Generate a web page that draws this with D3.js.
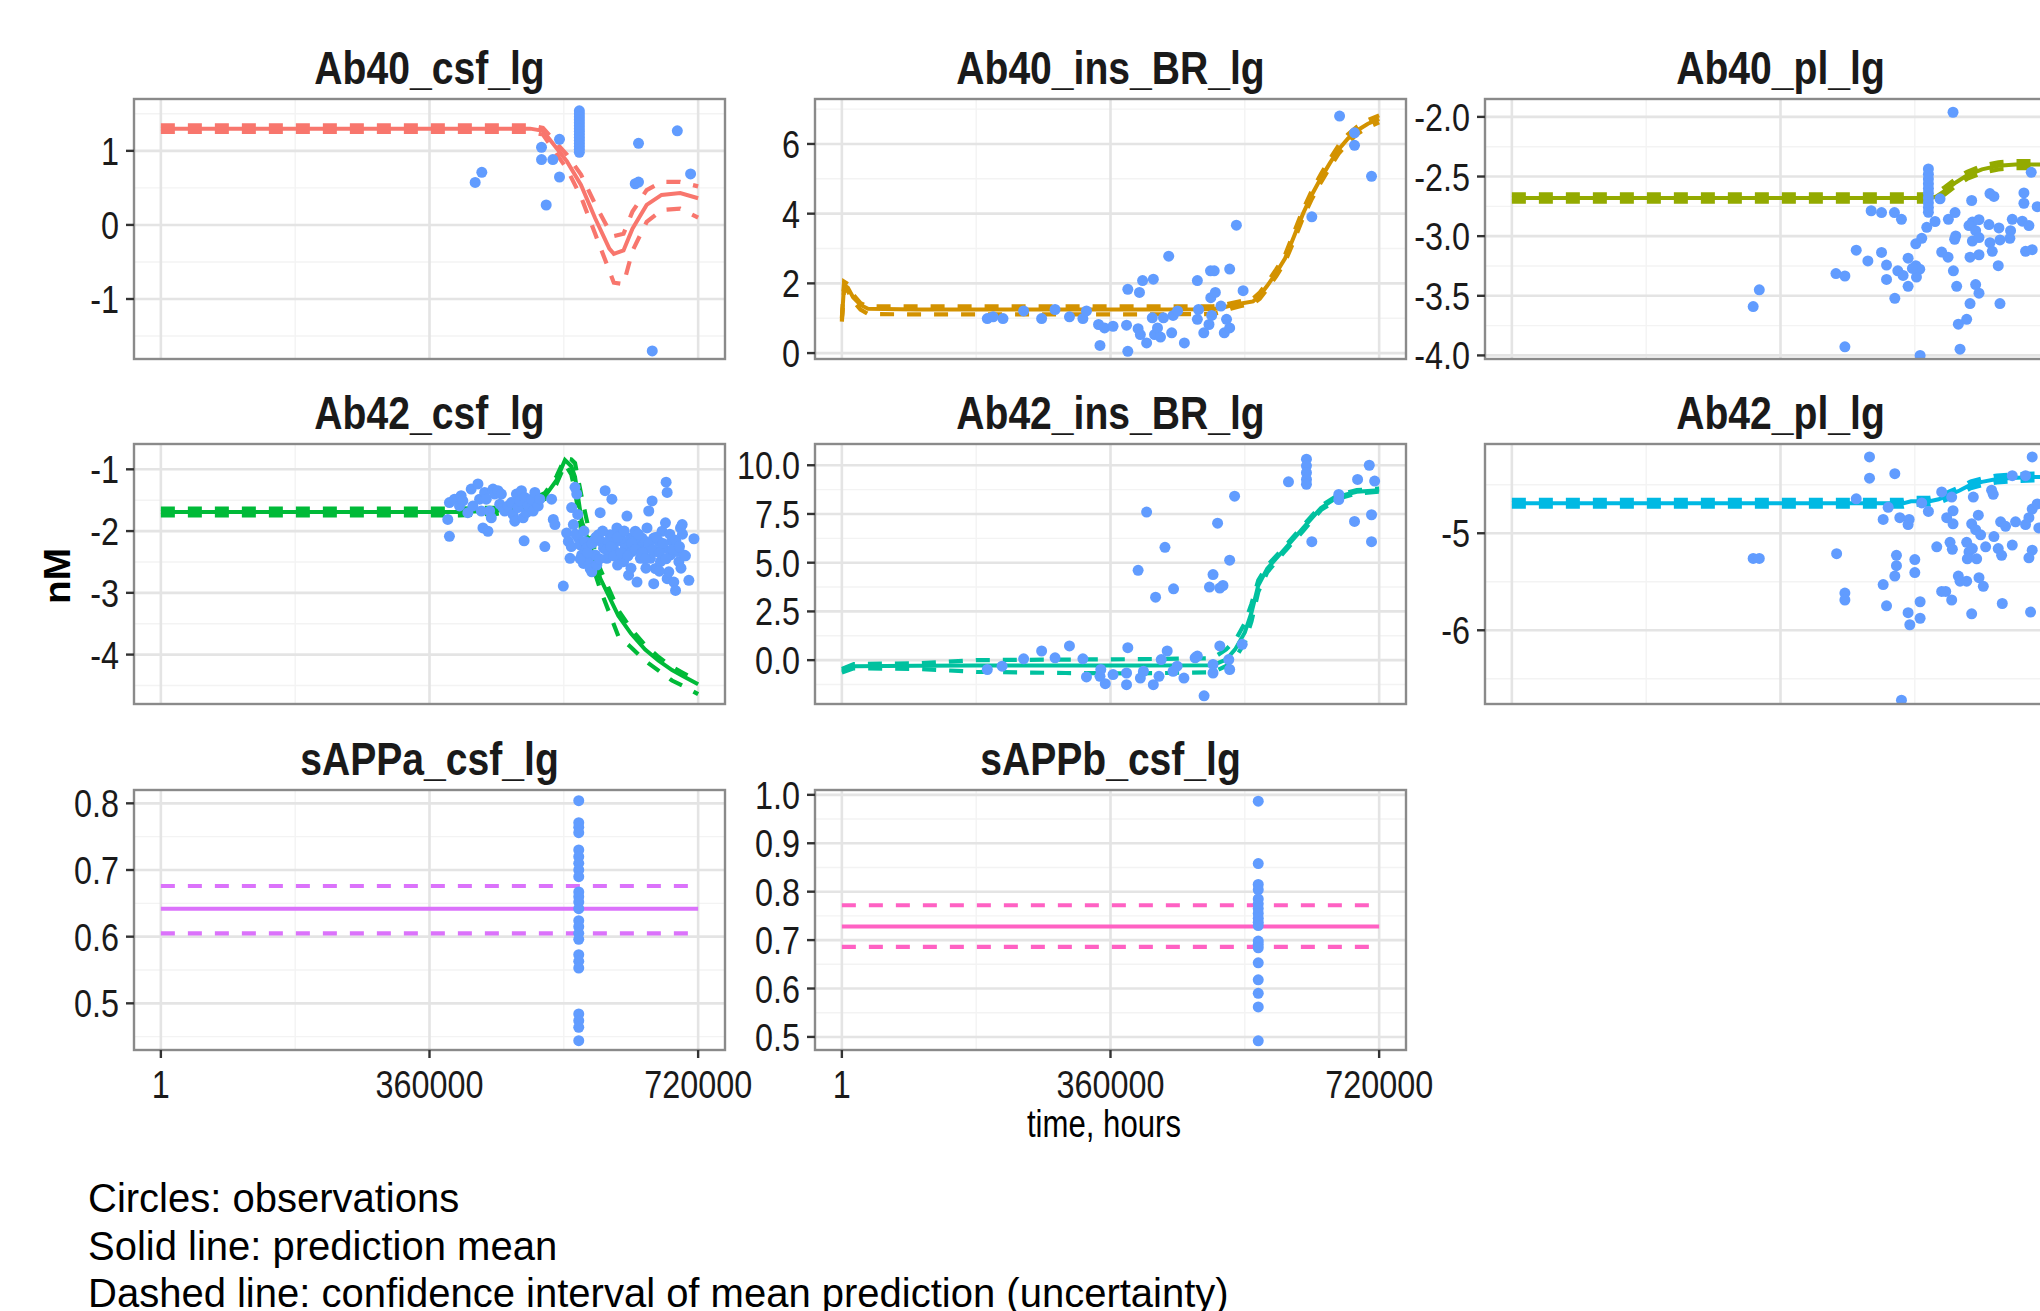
<!DOCTYPE html>
<html><head><meta charset="utf-8">
<script src="https://cdn.jsdelivr.net/npm/d3@7"></script>
<style>body{margin:0;background:#fff;overflow:hidden}</style>
</head><body>
<svg id="chart" width="2040" height="1311"></svg>
<script>
// ---------------- DATA ----------------
const panelNames = ["Ab40_csf_lg","Ab40_ins_BR_lg","Ab40_pl_lg","Ab42_csf_lg","Ab42_ins_BR_lg","Ab42_pl_lg","sAPPa_csf_lg","sAPPb_csf_lg"];
const panelColors = ["#F8766D","#D39200","#93AA00","#00BA38","#00C19F","#00B9E3","#DB72FB","#FF61C3"];
const obsColor = "#619CFF";
const xLimits = [1, 720000];
const xTicks = [1, 360000, 720000];
const xTickLabels = ["1","360000","720000"];
const xMinor = [180000, 540000];
const yAxisTitle = "nM";
const xAxisTitle = "time, hours";
const footerLines = ["Circles: observations","Solid line: prediction mean","Dashed line: confidence interval of mean prediction (uncertainty)"];

// y-axis limits (panel extents), ticks, labels, minor breaks
const yLim_Ab40_csf = [-1.81, 1.70], yTicks_Ab40_csf = [-1,0,1], yLab_Ab40_csf = ["-1","0","1"], yMinor_Ab40_csf = [-1.5,-0.5,0.5,1.5];
const yLim_Ab40_ins = [-0.17, 7.29], yTicks_Ab40_ins = [0,2,4,6], yLab_Ab40_ins = ["0","2","4","6"], yMinor_Ab40_ins = [1,3,5,7];
const yLim_Ab40_pl = [-4.03, -1.85], yTicks_Ab40_pl = [-4,-3.5,-3,-2.5,-2], yLab_Ab40_pl = ["-4.0","-3.5","-3.0","-2.5","-2.0"], yMinor_Ab40_pl = [-3.75,-3.25,-2.75,-2.25];
const yLim_Ab42_csf = [-4.80, -0.59], yTicks_Ab42_csf = [-4,-3,-2,-1], yLab_Ab42_csf = ["-4","-3","-2","-1"], yMinor_Ab42_csf = [-4.5,-3.5,-2.5,-1.5];
const yLim_Ab42_ins = [-2.25, 11.09], yTicks_Ab42_ins = [0,2.5,5,7.5,10], yLab_Ab42_ins = ["0.0","2.5","5.0","7.5","10.0"], yMinor_Ab42_ins = [-1.25,1.25,3.75,6.25,8.75];
const yLim_Ab42_pl = [-6.76, -4.08], yTicks_Ab42_pl = [-6,-5], yLab_Ab42_pl = ["-6","-5"], yMinor_Ab42_pl = [-6.5,-5.5,-4.5];
const yLim_sAPPa = [0.430, 0.820], yTicks_sAPPa = [0.5,0.6,0.7,0.8], yLab_sAPPa = ["0.5","0.6","0.7","0.8"], yMinor_sAPPa = [0.45,0.55,0.65,0.75];
const yLim_sAPPb = [0.473, 1.01], yTicks_sAPPb = [0.5,0.6,0.7,0.8,0.9,1.0], yLab_sAPPb = ["0.5","0.6","0.7","0.8","0.9","1.0"], yMinor_sAPPb = [0.55,0.65,0.75,0.85,0.95];

// predictions: time (hours), mean, lower CI, upper CI
const predX_Ab40_csf = [1,100e3,200e3,300e3,400e3,495e3,512e3,544e3,563e3,582e3,601e3,607e3,620e3,632e3,651e3,671e3,696e3,720e3];
const mean_Ab40_csf  = [1.30,1.30,1.30,1.30,1.30,1.30,1.27,0.86,0.54,0.09,-0.32,-0.39,-0.345,-0.05,0.27,0.405,0.43,0.36];
const hi_Ab40_csf    = [1.345,1.345,1.345,1.345,1.345,1.345,1.31,0.95,0.68,0.28,-0.08,-0.15,-0.12,0.18,0.47,0.58,0.58,0.52];
const lo_Ab40_csf    = [1.255,1.255,1.255,1.255,1.255,1.255,1.22,0.76,0.38,-0.12,-0.62,-0.78,-0.80,-0.35,0.04,0.20,0.22,0.10];

const predX_Ab40_ins = [1,3e3,8e3,15e3,25e3,35e3,100e3,200e3,300e3,400e3,497e3,510e3,521e3,535e3,551e3,560e3,570e3,582e3,594e3,606e3,618e3,630e3,642e3,654e3,666e3,678e3,690e3,705e3,720e3];
const mean_Ab40_ins  = [0.95,1.95,1.88,1.60,1.38,1.27,1.25,1.25,1.25,1.25,1.26,1.30,1.36,1.42,1.48,1.65,1.93,2.30,2.72,3.35,4.00,4.55,5.02,5.45,5.85,6.15,6.38,6.58,6.72];
const hi_Ab40_ins    = [1.00,2.05,1.98,1.68,1.43,1.34,1.34,1.34,1.34,1.34,1.34,1.37,1.43,1.49,1.56,1.74,2.02,2.40,2.82,3.47,4.12,4.67,5.14,5.57,5.97,6.27,6.49,6.69,6.82];
const lo_Ab40_ins    = [0.90,1.85,1.78,1.50,1.25,1.12,1.11,1.11,1.11,1.11,1.12,1.19,1.27,1.35,1.41,1.56,1.84,2.20,2.62,3.23,3.88,4.43,4.90,5.33,5.73,6.03,6.28,6.48,6.62];

const predX_Ab40_pl = [1,100e3,200e3,300e3,400e3,500e3,560e3,568e3,580e3,595e3,610e3,630e3,652e3,675e3,700e3,720e3];
const mean_Ab40_pl  = [-2.68,-2.68,-2.68,-2.68,-2.68,-2.68,-2.68,-2.67,-2.62,-2.55,-2.49,-2.44,-2.41,-2.40,-2.40,-2.40];
const hi_Ab40_pl    = [-2.65,-2.65,-2.65,-2.65,-2.65,-2.65,-2.65,-2.64,-2.59,-2.52,-2.46,-2.41,-2.38,-2.37,-2.37,-2.37];
const lo_Ab40_pl    = [-2.71,-2.71,-2.71,-2.71,-2.71,-2.71,-2.71,-2.70,-2.65,-2.58,-2.52,-2.47,-2.44,-2.43,-2.43,-2.43];

const predX_Ab42_csf = [1,100e3,200e3,300e3,400e3,450e3,490e3,515e3,530e3,541.5e3,550e3,555e3,564e3,573e3,589e3,613e3,630e3,649e3,667e3,685e3,700e3,720e3];
const mean_Ab42_csf  = [-1.69,-1.69,-1.69,-1.69,-1.69,-1.67,-1.58,-1.43,-1.18,-0.85,-0.95,-1.12,-1.84,-2.16,-2.77,-3.37,-3.66,-3.92,-4.10,-4.25,-4.35,-4.48];
const hi_Ab42_csf    = [-1.635,-1.635,-1.635,-1.635,-1.635,-1.62,-1.53,-1.38,-1.12,-0.82,-0.84,-0.90,-1.45,-1.95,-2.62,-3.28,-3.58,-3.85,-4.04,-4.20,-4.30,-4.43];
const lo_Ab42_csf    = [-1.745,-1.745,-1.745,-1.745,-1.745,-1.72,-1.63,-1.48,-1.24,-0.92,-1.08,-1.35,-2.05,-2.36,-2.95,-3.70,-3.88,-4.10,-4.26,-4.42,-4.51,-4.64];

const predX_Ab42_ins = [1,16e3,100e3,180e3,300e3,400e3,497e3,515e3,527e3,540e3,549e3,558e3,570e3,594e3,618e3,642e3,666e3,690e3,720e3];
const mean_Ab42_ins  = [-0.54,-0.31,-0.29,-0.28,-0.28,-0.28,-0.26,0.03,0.55,1.42,2.45,3.83,4.70,5.73,6.77,7.81,8.41,8.64,8.72];
const hi_Ab42_ins    = [-0.45,-0.20,-0.16,0.00,0.03,0.05,0.10,0.55,1.00,1.90,2.90,4.10,4.85,5.85,6.90,7.92,8.50,8.72,8.80];
const lo_Ab42_ins    = [-0.63,-0.42,-0.45,-0.60,-0.66,-0.68,-0.62,-0.30,0.10,0.90,2.00,3.50,4.50,5.60,6.62,7.70,8.30,8.55,8.64];

const predX_Ab42_pl = [1,100e3,200e3,300e3,400e3,500e3,525e3,535e3,560e3,572e3,585e3,600e3,615e3,630e3,650e3,670e3,700e3,720e3];
const mean_Ab42_pl  = [-4.69,-4.69,-4.69,-4.69,-4.69,-4.69,-4.69,-4.67,-4.67,-4.65,-4.61,-4.56,-4.50,-4.47,-4.44,-4.43,-4.42,-4.42];
const hi_Ab42_pl    = [-4.655,-4.655,-4.655,-4.655,-4.655,-4.655,-4.655,-4.635,-4.635,-4.615,-4.575,-4.525,-4.465,-4.435,-4.405,-4.395,-4.385,-4.385];
const lo_Ab42_pl    = [-4.725,-4.725,-4.725,-4.725,-4.725,-4.725,-4.725,-4.705,-4.705,-4.685,-4.645,-4.595,-4.535,-4.505,-4.475,-4.465,-4.455,-4.455];

const predX_sAPPa = [1, 720e3], mean_sAPPa = [0.642,0.642], hi_sAPPa = [0.676,0.676], lo_sAPPa = [0.605,0.605];
const predX_sAPPb = [1, 720e3], mean_sAPPb = [0.728,0.728], hi_sAPPb = [0.772,0.772], lo_sAPPb = [0.686,0.686];

// observations [time (hours), value]
const obs_Ab40_csf = [[421.2e3,0.574],[430.1e3,0.710],[510.1e3,1.047],[510.1e3,0.883],[525.3e3,0.883],[534.2e3,1.156],[534.2e3,0.647],[516.4e3,0.269],
 [560.8e3,1.54],[560.8e3,1.50],[560.8e3,1.46],[560.8e3,1.42],[560.8e3,1.38],[560.8e3,1.34],[560.8e3,1.30],[560.8e3,1.26],[560.8e3,1.22],[560.8e3,1.18],[560.8e3,1.14],[560.8e3,1.10],[560.8e3,1.06],[560.8e3,1.02],[560.8e3,0.98],
 [640.1e3,1.102],[635.7e3,0.556],[640.1e3,0.578],[692.1e3,1.270],[709.9e3,0.688],[658.5e3,-1.701]];

const obs_Ab40_ins = [[194.9e3,0.99],[202.7e3,1.04],[215.9e3,0.99],[243.6e3,1.21],[267.7e3,0.99],[285.7e3,1.25],[305e3,1.04],[323e3,0.99],[327.8e3,1.21],[344e3,0.82],[345.9e3,0.22],[352e3,0.72],[363.4e3,0.77],[381.5e3,0.80],[383.2e3,1.83],[383.2e3,0.05],[398.8e3,1.74],[397e3,0.70],[403e3,2.08],[400e3,0.53],[417.4e3,2.12],[408.4e3,0.29],[416e3,1.01],[419e3,0.53],[423e3,0.72],[427e3,0.46],[431e3,1.01],[438e3,2.78],[442e3,0.58],[443.9e3,1.08],[449.9e3,1.21],[459e3,0.29],[476.4e3,2.08],[476.4e3,0.97],[478e3,1.25],[485e3,0.58],[492e3,0.82],[494e3,2.36],[499e3,2.36],[494.4e3,1.59],[500.5e3,1.74],[495.6e3,1.08],[508e3,1.35],[512.5e3,0.58],[515.5e3,0.97],[519.7e3,0.72],[519.7e3,2.41],[528.7e3,3.67],[537.7e3,1.79],[629.8e3,3.91],[667e3,6.80],[687e3,6.32],[687e3,5.96],[709.8e3,5.07]];

const obs_Ab40_pl = [[323.4e3,-3.59],[331.6e3,-3.45],
 [591.2e3,-1.961],[573.8e3,-2.687],[481.5e3,-2.787],[495.4e3,-2.802],[512.7e3,-2.802],[522.1e3,-2.859],[556e3,-2.926],[567.1e3,-2.877],[585e3,-2.859],[593.9e3,-2.802],[616.2e3,-2.701],[640.7e3,-2.643],[646e3,-2.667],[617.1e3,-2.882],[626e3,-2.862],[612.6e3,-2.911],[621.5e3,-2.954],[617.1e3,-3.041],[626e3,-3.012],[639.4e3,-2.903],[652.7e3,-2.931],[670.6e3,-2.859],[668.3e3,-2.954],[667.4e3,-3.018],[684e3,-2.874],[692.9e3,-2.911],[686.2e3,-2.638],[686.2e3,-2.724],[696e3,-2.465],[704e3,-2.753],[688.4e3,-3.127],[697.3e3,-3.113],[640.7e3,-3.055],[643.8e3,-3.127],[654.1e3,-3.032],[651.8e3,-3.248],[626e3,-3.156],[614e3,-3.176],[594.8e3,-2.998],[593.4e3,-3.026],[576e3,-3.133],[584.5e3,-3.176],[591.7e3,-3.291],[596.1e3,-3.421],[621.5e3,-3.406],[626e3,-3.478],[614e3,-3.565],[654.1e3,-3.565],[598.3e3,-3.738],[609.5e3,-3.697],[600.6e3,-3.948],[547.1e3,-4.0],[446.3e3,-3.928],[461.5e3,-3.118],[477.1e3,-3.208],[495.4e3,-3.136],[502.1e3,-3.242],[502.1e3,-3.363],[513.2e3,-3.521],[517.2e3,-3.291],[524.3e3,-3.329],[531e3,-3.421],[531e3,-3.185],[541.3e3,-3.248],[546.6e3,-3.277],[542.2e3,-3.343],[536.8e3,-3.271],[541.3e3,-3.064],[549.3e3,-3.018],[434.3e3,-3.314],[446.3e3,-3.334],
 [558.2e3,-2.436],[558.2e3,-2.48],[558.2e3,-2.52],[558.2e3,-2.56],[558.2e3,-2.60],[558.2e3,-2.64],[558.2e3,-2.68],[558.2e3,-2.72],[558.2e3,-2.76],[558.2e3,-2.80]];

const obs_Ab42_csf = [[386.7e3,-1.538],[384.5e3,-1.812],[386.7e3,-2.085],[393.5e3,-1.483],[400.2e3,-1.593],[402.4e3,-1.428],[404.7e3,-1.511],[411.4e3,-1.702],[415.9e3,-1.319],[418.2e3,-1.593],[424.9e3,-1.237],[427.1e3,-1.483],[429.4e3,-1.675],[431.6e3,-1.949],[433.9e3,-1.374],[436.1e3,-1.483],[438.3e3,-2.003],[440.6e3,-1.675],[442.8e3,-1.784],[445.1e3,-1.319],[447.3e3,-1.401],[451.8e3,-1.346],[454.1e3,-1.565],[456.3e3,-1.401],[458.5e3,-1.620],[460.8e3,-1.675],[465.3e3,-1.593],[469.8e3,-1.538],[472e3,-1.730],[474.3e3,-1.839],[476.5e3,-1.401],[478.7e3,-1.620],[481e3,-1.511],[483.2e3,-1.346],[485.5e3,-1.784],[486.8e3,-2.157],[487.7e3,-1.456],[490e3,-1.702],[492.2e3,-1.593],[496.7e3,-1.483],[498.9e3,-1.675],[501.2e3,-1.374],[505.7e3,-1.593],[507.9e3,-1.483],[514.6e3,-2.250],[523.6e3,-1.483],[525.9e3,-1.812],[528.1e3,-1.894],
 [539.3e3,-2.890],[543.8e3,-2.031],[546.1e3,-2.168],[548.3e3,-2.441],[550.5e3,-1.620],[552.8e3,-1.894],[555e3,-1.292],[557.3e3,-1.401],[558.6e3,-1.730],[559.5e3,-2.113],[561.8e3,-2.222],[564e3,-2.387],[566.3e3,-2.523],[568.5e3,-2.168],[570.7e3,-2.277],[573e3,-2.496],[575.2e3,-2.606],[577.5e3,-2.660],[579.7e3,-2.168],[582e3,-2.387],[584.2e3,-2.551],[586.5e3,-2.058],[588.7e3,-1.702],[590e3,-2.168],[593.2e3,-2.277],[595.4e3,-1.346],[597.7e3,-2.441],[599.9e3,-2.168],[602.2e3,-2.058],[604.4e3,-1.483],[606.6e3,-2.277],[608.9e3,-2.168],[611.1e3,-1.949],[613.4e3,-2.387],[615.6e3,-2.058],[617.9e3,-2.168],[620.1e3,-2.496],[622.4e3,-2.277],[624.6e3,-1.757],[626.8e3,-2.715],[629.1e3,-2.113],[631.3e3,-2.332],[633.6e3,-2.168],[635.8e3,-2.003],[638.1e3,-2.825],[640.3e3,-2.222],[642.6e3,-2.441],[644.8e3,-2.113],[647e3,-2.332],[649.3e3,-2.168],[651.5e3,-1.949],[653.8e3,-1.675],[656e3,-2.441],[658.3e3,-1.511],[660.5e3,-2.113],[660.5e3,-2.852],[662.7e3,-2.606],[665e3,-2.332],[667.2e3,-2.168],[669.5e3,-2.496],[671.7e3,-2.003],[674e3,-2.277],[676.2e3,-1.866],[677.1e3,-1.209],[678.5e3,-1.374],[678.5e3,-2.770],[680.7e3,-2.660],[683e3,-2.387],[685.2e3,-2.168],[687.4e3,-2.825],[689.7e3,-2.961],[691.9e3,-2.332],[694.2e3,-2.496],[696.4e3,-1.949],[698.6e3,-1.894],[700.9e3,-2.387],[707.6e3,-2.797],[714.4e3,-2.124],
 [550e3,-2.25],[556e3,-2.05],[562e3,-2.45],[567e3,-2.0],[572e3,-2.35],[578e3,-2.2],[583e3,-2.1],[588e3,-2.45],[592e3,-2.0],[597e3,-2.3],[603e3,-2.25],[607e3,-2.4],[612e3,-2.1],[617e3,-2.35],[621e3,-2.0],[626e3,-2.4],[631e3,-2.2],[636e3,-2.3],[640e3,-2.05],[645e3,-2.35],[649e3,-2.45],[654e3,-2.2],[659e3,-2.3],[664e3,-2.1],[668e3,-2.35],[673e3,-2.2],[677e3,-2.45],[682e3,-2.05],[686e3,-2.3],[690e3,-2.15],[695e3,-2.25],[699e3,-2.05],[703e3,-2.4],[697e3,-2.6],[612e3,-2.55],[630e3,-2.6],[650e3,-2.6],[668e3,-2.65]];

const obs_Ab42_ins = [[194.9e3,-0.48],[214.7e3,-0.31],[243.6e3,0.07],[267.7e3,0.47],[285.7e3,0.12],[305e3,0.73],[323e3,0.07],[327.8e3,-0.86],[345.9e3,-0.83],[347e3,-0.48],[353e3,-1.21],[363.4e3,-0.74],[381.5e3,-1.26],[381.5e3,-0.66],[383.2e3,0.64],[397e3,4.61],[400e3,-0.92],[404.2e3,-0.57],[408.4e3,7.60],[417.4e3,-1.26],[420.4e3,3.23],[425e3,-0.83],[428e3,0.03],[433e3,5.79],[436e3,0.47],[443.9e3,-0.57],[444.5e3,3.66],[449.3e3,-0.31],[458.4e3,-0.92],[473.4e3,0.12],[476.4e3,0.21],[485.4e3,-1.83],[492.6e3,3.75],[497.4e3,4.39],[497.4e3,-0.66],[497.4e3,-0.22],[503.5e3,7.03],[506.5e3,0.73],[506.5e3,3.70],[510.7e3,3.83],[519.7e3,5.13],[519.7e3,-0.48],[518.5e3,0.03],[526.3e3,8.41],[536.5e3,0.81],[598.5e3,9.15],[622.6e3,10.31],[622.6e3,9.97],[622.6e3,9.62],[622.6e3,9.27],[622.6e3,9.02],[629.8e3,6.08],[665.9e3,8.50],[665.9e3,8.24],[687e3,7.12],[691.1e3,9.27],[706.8e3,10.0],[709.8e3,7.46],[709.8e3,6.08],[714e3,9.19]];

const obs_Ab42_pl = [[323.4e3,-5.26],[331.6e3,-5.26],
 [479.3e3,-4.213],[479.3e3,-4.432],[513.2e3,-4.386],[461.5e3,-4.645],[504.3e3,-4.733],[497.6e3,-4.857],[519.9e3,-4.839],[532.4e3,-4.857],[531e3,-4.910],[549.3e3,-4.687],[558.2e3,-4.775],[576e3,-4.574],[589.4e3,-4.627],[591.2e3,-4.768],[582.7e3,-4.839],[591.2e3,-4.903],[618.4e3,-4.627],[642.9e3,-4.556],[645.1e3,-4.599],[670.6e3,-4.407],[688.4e3,-4.407],[697.3e3,-4.213],[625.1e3,-4.814],[616.2e3,-4.903],[621.5e3,-4.963],[628.2e3,-5.016],[646e3,-5.034],[655e3,-4.882],[661.6e3,-4.928],[675e3,-4.882],[688.4e3,-4.910],[692.9e3,-4.839],[697.3e3,-4.751],[704e3,-4.698],[706.2e3,-4.945],[569.4e3,-5.140],[587.2e3,-5.094],[590.3e3,-5.165],[609.5e3,-5.094],[612.6e3,-5.193],[617.1e3,-5.158],[610.4e3,-5.264],[622.9e3,-5.264],[634.9e3,-5.140],[651.8e3,-5.158],[656.3e3,-5.228],[670.6e3,-5.122],[697.3e3,-5.175],[692.9e3,-5.253],[435.2e3,-5.211],[515.4e3,-5.228],[515.4e3,-5.334],[513.2e3,-5.441],[540e3,-5.271],[540e3,-5.405],[497.6e3,-5.529],[502.1e3,-5.748],[531e3,-5.819],[533.3e3,-5.943],[547.1e3,-5.706],[547.1e3,-5.876],[446.3e3,-5.617],[446.3e3,-5.688],[576e3,-5.600],[581.4e3,-5.600],[589.4e3,-5.688],[598.3e3,-5.441],[600.6e3,-5.494],[609.5e3,-5.494],[626e3,-5.458],[631.8e3,-5.547],[616.2e3,-5.830],[657.2e3,-5.724],[695.1e3,-5.812],[522.1e3,-6.721]];

const obs_sAPPa = [[560e3,0.804],[560e3,0.771],[560e3,0.764],[560e3,0.756],[560e3,0.730],[560e3,0.720],[560e3,0.710],[560e3,0.700],[560e3,0.690],[560e3,0.667],[560e3,0.660],[560e3,0.652],[560e3,0.642],[560e3,0.624],[560e3,0.615],[560e3,0.605],[560e3,0.596],[560e3,0.573],[560e3,0.563],[560e3,0.553],[560e3,0.484],[560e3,0.474],[560e3,0.464],[560e3,0.444]];
const obs_sAPPb = [[558e3,0.987],[558e3,0.858],[558e3,0.815],[558e3,0.804],[558e3,0.785],[558e3,0.775],[558e3,0.765],[558e3,0.755],[558e3,0.745],[558e3,0.737],[558e3,0.730],[558e3,0.698],[558e3,0.691],[558e3,0.684],[558e3,0.653],[558e3,0.618],[558e3,0.590],[558e3,0.562],[558e3,0.492]];

// ---------------- LAYOUT ----------------
const FONT = "'Liberation Sans', Arial, Helvetica, sans-serif";
const colLeft = [134, 815, 1485], panelW = 591;
const rowTop = [99, 444, 790], panelH = 260;

const panels = [
 {i:0,r:0,c:0,lim:yLim_Ab40_csf,ticks:yTicks_Ab40_csf,labs:yLab_Ab40_csf,minor:yMinor_Ab40_csf,px:predX_Ab40_csf,m:mean_Ab40_csf,lo:lo_Ab40_csf,hi:hi_Ab40_csf,obs:obs_Ab40_csf},
 {i:1,r:0,c:1,lim:yLim_Ab40_ins,ticks:yTicks_Ab40_ins,labs:yLab_Ab40_ins,minor:yMinor_Ab40_ins,px:predX_Ab40_ins,m:mean_Ab40_ins,lo:lo_Ab40_ins,hi:hi_Ab40_ins,obs:obs_Ab40_ins},
 {i:2,r:0,c:2,lim:yLim_Ab40_pl,ticks:yTicks_Ab40_pl,labs:yLab_Ab40_pl,minor:yMinor_Ab40_pl,px:predX_Ab40_pl,m:mean_Ab40_pl,lo:lo_Ab40_pl,hi:hi_Ab40_pl,obs:obs_Ab40_pl},
 {i:3,r:1,c:0,lim:yLim_Ab42_csf,ticks:yTicks_Ab42_csf,labs:yLab_Ab42_csf,minor:yMinor_Ab42_csf,px:predX_Ab42_csf,m:mean_Ab42_csf,lo:lo_Ab42_csf,hi:hi_Ab42_csf,obs:obs_Ab42_csf},
 {i:4,r:1,c:1,lim:yLim_Ab42_ins,ticks:yTicks_Ab42_ins,labs:yLab_Ab42_ins,minor:yMinor_Ab42_ins,px:predX_Ab42_ins,m:mean_Ab42_ins,lo:lo_Ab42_ins,hi:hi_Ab42_ins,obs:obs_Ab42_ins},
 {i:5,r:1,c:2,lim:yLim_Ab42_pl,ticks:yTicks_Ab42_pl,labs:yLab_Ab42_pl,minor:yMinor_Ab42_pl,px:predX_Ab42_pl,m:mean_Ab42_pl,lo:lo_Ab42_pl,hi:hi_Ab42_pl,obs:obs_Ab42_pl},
 {i:6,r:2,c:0,lim:yLim_sAPPa,ticks:yTicks_sAPPa,labs:yLab_sAPPa,minor:yMinor_sAPPa,px:predX_sAPPa,m:mean_sAPPa,lo:lo_sAPPa,hi:hi_sAPPa,obs:obs_sAPPa},
 {i:7,r:2,c:1,lim:yLim_sAPPb,ticks:yTicks_sAPPb,labs:yLab_sAPPb,minor:yMinor_sAPPb,px:predX_sAPPb,m:mean_sAPPb,lo:lo_sAPPb,hi:hi_sAPPb,obs:obs_sAPPb}
];

const svg = d3.select("#chart");
svg.append("rect").attr("width",2040).attr("height",1311).attr("fill","#fff");
const defs = svg.append("defs");

function txt(g, x, y, s, o) {
  const t = g.append("text")
    .attr("transform", `translate(${x},${y}) rotate(${o.rot||0}) scale(${o.sx||1},${o.sy||1})`)
    .attr("text-anchor", o.anchor || "middle")
    .attr("font-family", FONT)
    .attr("font-size", o.size)
    .attr("font-weight", o.weight || "normal")
    .attr("fill", o.fill || "#1a1a1a")
    .text(s);
  if (o.dy) t.attr("dy", o.dy);
  return t;
}

const xSpan = xLimits[1] - xLimits[0];
const xDomain = [xLimits[0] - 0.05*xSpan, xLimits[1] + 0.05*xSpan];

panels.forEach(p => {
  const L = colLeft[p.c], T = rowTop[p.r];
  const x = d3.scaleLinear().domain(xDomain).range([L, L + panelW]);
  const y = d3.scaleLinear().domain(p.lim).range([T + panelH, T]);
  const g = svg.append("g");
  const clipId = "clip" + p.i;
  defs.append("clipPath").attr("id", clipId).append("rect")
    .attr("x", L).attr("y", T).attr("width", panelW).attr("height", panelH);

  g.append("rect").attr("x", L).attr("y", T).attr("width", panelW).attr("height", panelH).attr("fill", "#fff");
  const grid = g.append("g");
  p.minor.forEach(v => grid.append("line").attr("x1", L).attr("x2", L+panelW).attr("y1", y(v)).attr("y2", y(v)).attr("stroke", "#F3F3F3").attr("stroke-width", 1.4));
  xMinor.forEach(v => grid.append("line").attr("x1", x(v)).attr("x2", x(v)).attr("y1", T).attr("y2", T+panelH).attr("stroke", "#F3F3F3").attr("stroke-width", 1.4));
  p.ticks.forEach(v => grid.append("line").attr("x1", L).attr("x2", L+panelW).attr("y1", y(v)).attr("y2", y(v)).attr("stroke", "#E4E4E4").attr("stroke-width", 2.6));
  xTicks.forEach(v => grid.append("line").attr("x1", x(v)).attr("x2", x(v)).attr("y1", T).attr("y2", T+panelH).attr("stroke", "#E4E4E4").attr("stroke-width", 2.6));

  const plot = g.append("g").attr("clip-path", `url(#${clipId})`);
  const col = panelColors[p.i];
  const line = d3.line().x(d => x(d[0])).y(d => y(d[1]));
  const meanPts = p.px.map((t, k) => [t, p.m[k]]);
  const loPts = p.px.map((t, k) => [t, p.lo[k]]);
  const hiPts = p.px.map((t, k) => [t, p.hi[k]]);
  plot.append("path").attr("d", line(meanPts)).attr("fill", "none").attr("stroke", col).attr("stroke-width", 4);
  [loPts, hiPts].forEach(pts => plot.append("path").attr("d", line(pts)).attr("fill", "none")
    .attr("stroke", col).attr("stroke-width", 4.2).attr("stroke-dasharray", "14,13"));
  plot.selectAll("circle.obs").data(p.obs).enter().append("circle")
    .attr("cx", d => x(d[0])).attr("cy", d => y(d[1])).attr("r", 5.5).attr("fill", obsColor);

  g.append("rect").attr("x", L).attr("y", T).attr("width", panelW).attr("height", panelH)
    .attr("fill", "none").attr("stroke", "#8a8a8a").attr("stroke-width", 2.4);

  p.ticks.forEach((v, k) => {
    g.append("line").attr("x1", L - 8).attr("x2", L).attr("y1", y(v)).attr("y2", y(v)).attr("stroke", "#333").attr("stroke-width", 2.4);
    txt(g, L - 15, y(v), p.labs[k], {size: 39, sx: 0.83, anchor: "end", dy: "0.36em"});
  });

  txt(g, L + panelW/2, T - 15, panelNames[p.i], {size: 46, weight: "bold", sx: 0.85, fill: "#1a1a1a"});

  if (p.r === 2) {
    xTicks.forEach((v, k) => {
      g.append("line").attr("x1", x(v)).attr("x2", x(v)).attr("y1", T + panelH).attr("y2", T + panelH + 8).attr("stroke", "#333").attr("stroke-width", 2.4);
      txt(g, x(v), 1098, xTickLabels[k], {size: 39, sx: 0.83});
    });
  }
});

txt(svg, 1104, 1137, xAxisTitle, {size: 38, sx: 0.82, fill: "#000"});
txt(svg, 70, 576, yAxisTitle, {size: 37, weight: "bold", rot: -90, sx: 1.05, fill: "#000"});

footerLines.forEach((s, k) => txt(svg, 88, 1212 + k*47.5, s, {size: 40, anchor: "start", fill: "#000"}));
</script>
</body></html>
